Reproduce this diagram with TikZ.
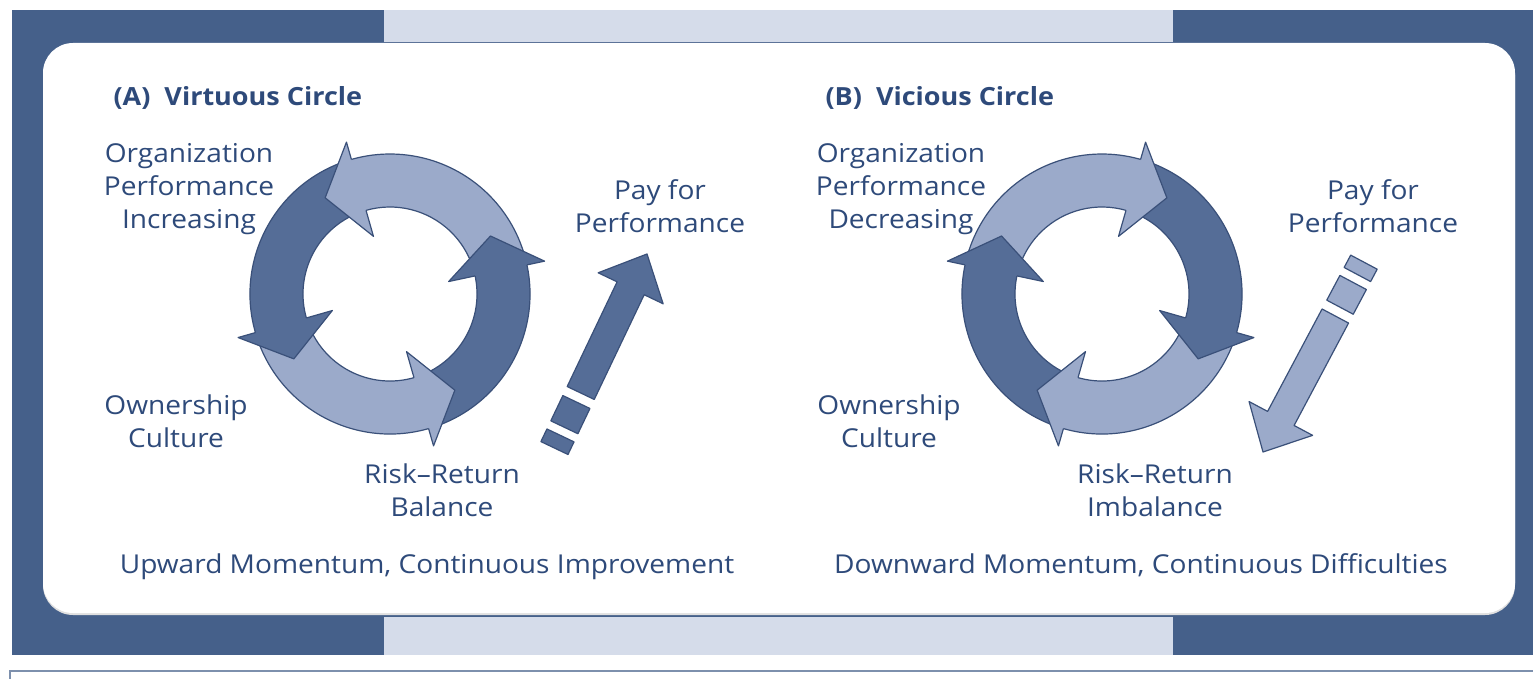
\documentclass[tikz,border=0pt]{standalone}
\usepackage{fontspec}
\setmainfont{Open Sans}[FakeStretch=1.08]
\definecolor{frame}{HTML}{45608A}
\definecolor{band}{HTML}{D5DCEA}
\definecolor{txt}{HTML}{2E4A7A}
\definecolor{darkarr}{HTML}{556D97}
\definecolor{lightarr}{HTML}{9BAACA}
\definecolor{edgecol}{HTML}{3A5079}
\tikzset{
  lbl/.style={text=txt, font=\fontsize{26}{33}\selectfont, align=center, anchor=base},
  ttl/.style={text=txt, font=\fontsize{25}{33}\selectfont\bfseries, anchor=base west},
  arrline/.style={draw=edgecol, line width=1.2pt, line join=round},
}
\newcommand\ringbody[3]{%
  \filldraw[fill=#3, arrline] (#1:140) arc[start angle=#1, end angle=#2, radius=140] -- (#2:87) arc[start angle=#2, end angle=#1, radius=87] -- cycle;}
\newcommand\ringhead[2]{%
  \fill[#2] (#1:158) -- ({#1+18}:116) -- (#1:60) -- cycle;
  \draw[arrline] (#1:140) -- (#1:158) -- ({#1+18}:116) -- (#1:60) -- (#1:87);}
\newcommand\ringall{%
  \ringbody{290}{376}{darkarr}
  \ringbody{16}{110}{lightarr}
  \ringbody{110}{200}{darkarr}
  \ringbody{200}{290}{lightarr}
  \ringhead{12}{darkarr}
  \ringhead{106}{lightarr}
  \ringhead{196}{darkarr}
  \ringhead{286}{lightarr}}
\newcommand\straightarrow[1]{%
  \filldraw[fill=#1, arrline] (0,0) -- (38,36) -- (38,15) -- (154,15) -- (154,-15) -- (38,-15) -- (38,-36) -- cycle;
  \filldraw[fill=#1, arrline] (164,-15) rectangle (192,15);
  \filldraw[fill=#1, arrline] (201,-15) rectangle (215,15);}
\begin{document}
\begin{tikzpicture}[x=1pt, y=1pt]
\useasboundingbox (0,0) rectangle (1533,-679);
\fill[white] (0,0) rectangle (1533,-679);
% frame
\fill[frame] (12,-10) rectangle (1533,-655);
\fill[band] (384,-10) rectangle (1173,-42);
\fill[band] (384,-617) rectangle (1173,-655);
\fill[black!12, rounded corners=30pt] (43,-45) rectangle (1515,-615);
\fill[white, rounded corners=30pt] (43,-43) rectangle (1515,-613);
\draw[frame!70, line width=1.5pt] (10,-680) -- (10,-671) -- (1534,-671);
% rings
\begin{scope}[shift={(390,-294)}]
  \ringall
\end{scope}
\begin{scope}[shift={(1102,-294)}, xscale=-1]
  \ringall
\end{scope}
% straight arrows
\begin{scope}[shift={(647,-254)}, rotate=244.5]
  \straightarrow{darkarr}
\end{scope}
\begin{scope}[shift={(1263,-452)}, rotate=62]
  \straightarrow{lightarr}
\end{scope}
% texts A
\node[ttl] (titleA) at (110,-106) {(A)\ \ Virtuous Circle};
\node[lbl] (orgA) at (189,-228) {Organization\\Performance\\Increasing};
\node[lbl] (payA) at (660,-233) {Pay for\\Performance};
\node[lbl] (ownA) at (176,-447) {Ownership\\Culture};
\node[lbl] (riskA) at (442,-516) {Risk–Return\\Balance};
\node[lbl] (momA) at (427,-573) {Upward Momentum, Continuous Improvement};
% texts B
\node[ttl] (titleB) at (822,-106) {(B)\ \ Vicious Circle};
\node[lbl] (orgB) at (901,-228) {Organization\\Performance\\Decreasing};
\node[lbl] (payB) at (1373,-233) {Pay for\\Performance};
\node[lbl] (ownB) at (889,-447) {Ownership\\Culture};
\node[lbl] (riskB) at (1155,-516) {Risk–Return\\Imbalance};
\node[lbl] (momB) at (1141,-573) {Downward Momentum, Continuous Difficulties};
\end{tikzpicture}
\end{document}
